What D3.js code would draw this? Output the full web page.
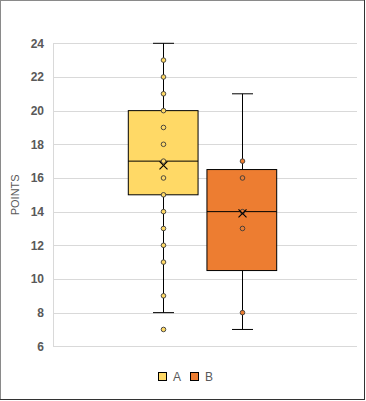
<!DOCTYPE html>
<html><head><meta charset="utf-8">
<script src="https://cdn.jsdelivr.net/npm/d3@7"></script>
<style>body{margin:0;background:#fff}svg{display:block}</style>
</head><body>
<svg id="c" width="366" height="401"></svg>
<script>
const seriesNames = ["A", "B"];
const seriesColors = ["#FFD966", "#ED7D31"];
const pointColors = ["#FFD966", "#ED7D31"];
const whiskerMin = [8, 7];
const quartile1 = [15, 10.5];
const medians = [17, 14];
const quartile3 = [20, 16.5];
const whiskerMax = [24, 21];
const means = [16.75, 13.9];
const pointsA = [23, 22, 21, 20, 19, 18, 17, 16, 15, 14, 13, 12, 11, 9, 7];
const pointsB = [17, 16, 14, 13, 8];
const points = [pointsA, pointsB];
const yTicks = [6, 8, 10, 12, 14, 16, 18, 20, 22, 24];
const yTitle = "POINTS";

(function () {
const svg = d3.select("#c");
const pLeft = 53, pRight = 357, pTop = 43.3, pBottom = 346.3;
const y = d3.scaleLinear().domain([6, 24]).range([pBottom, pTop]);
const x = d3.scaleBand().domain(seriesNames).range([128.3, 276.7]).paddingInner(0.113);

// border
svg.append("rect").attr("x", 0.5).attr("y", 0.5).attr("width", 364).attr("height", 399)
  .attr("fill", "#fff").attr("stroke", "#8a8a8a");
svg.append("line").attr("x1", 364.5).attr("x2", 364.5).attr("y1", 0).attr("y2", 400).attr("stroke", "#333");
svg.append("line").attr("x1", 0).attr("x2", 365).attr("y1", 399.5).attr("y2", 399.5).attr("stroke", "#333");

// grid
svg.append("g").selectAll("line").data(yTicks).join("line")
  .attr("x1", pLeft).attr("x2", pRight)
  .attr("y1", d => Math.round(y(d)) + 0.5).attr("y2", d => Math.round(y(d)) + 0.5)
  .attr("stroke", "#d9d9d9");
svg.append("line").attr("x1", pLeft + 0.5).attr("x2", pLeft + 0.5)
  .attr("y1", y(24)).attr("y2", y(6)).attr("stroke", "#d9d9d9");

// y axis labels
const yAxis = d3.axisLeft(y).tickValues(yTicks).tickSize(0).tickPadding(0);
const ga = svg.append("g").attr("transform", `translate(${pLeft - 9},0)`).call(yAxis);
ga.select(".domain").remove();
ga.selectAll("text").attr("font-family", "Liberation Sans, Arial, sans-serif")
  .attr("font-size", 12).attr("font-weight", "bold").attr("fill", "#595959");

svg.append("text").attr("transform", `translate(19,${(pTop + pBottom) / 2}) rotate(-90)`)
  .attr("text-anchor", "middle").attr("font-family", "Liberation Sans, Arial, sans-serif")
  .attr("font-size", 11).attr("fill", "#595959").text(yTitle);

// boxes
seriesNames.forEach((s, i) => {
  const x0 = x(s), w = x.bandwidth(), cx = Math.round(x0 + w / 2) + 0.5;
  const g = svg.append("g");
  const capW = 21;
  g.append("line").attr("x1", cx).attr("x2", cx).attr("y1", y(whiskerMax[i])).attr("y2", y(quartile3[i])).attr("stroke", "#000");
  g.append("line").attr("x1", cx).attr("x2", cx).attr("y1", y(quartile1[i])).attr("y2", y(whiskerMin[i])).attr("stroke", "#000");
  g.append("line").attr("x1", cx - capW / 2).attr("x2", cx + capW / 2).attr("y1", y(whiskerMax[i])).attr("y2", y(whiskerMax[i])).attr("stroke", "#000");
  g.append("line").attr("x1", cx - capW / 2).attr("x2", cx + capW / 2).attr("y1", y(whiskerMin[i])).attr("y2", y(whiskerMin[i])).attr("stroke", "#000");
  g.append("rect").attr("x", x0).attr("width", w)
    .attr("y", y(quartile3[i])).attr("height", y(quartile1[i]) - y(quartile3[i]))
    .attr("fill", seriesColors[i]).attr("stroke", "#000").attr("stroke-width", 1);
  g.append("line").attr("x1", x0).attr("x2", x0 + w).attr("y1", y(medians[i])).attr("y2", y(medians[i])).attr("stroke", "#000");
  g.selectAll("circle").data(points[i]).join("circle")
    .attr("cx", cx).attr("cy", d => y(d)).attr("r", 2.3)
    .attr("fill", pointColors[i]).attr("stroke", "#3a3a3a").attr("stroke-width", 0.9);
  const my = y(means[i]), m = 4;
  g.append("path").attr("d", `M${cx - m},${my - m}L${cx + m},${my + m}M${cx - m},${my + m}L${cx + m},${my - m}`)
    .attr("stroke", "#000").attr("stroke-width", 1.1).attr("fill", "none");
});

// legend
const legX = [158.5, 190.5];
seriesNames.forEach((s, i) => {
  svg.append("rect").attr("x", legX[i]).attr("y", 372.5).attr("width", 8).attr("height", 8)
    .attr("fill", seriesColors[i]).attr("stroke", "#000");
  svg.append("text").attr("x", legX[i] + 14.5).attr("y", 381).attr("font-family", "Liberation Sans, Arial, sans-serif")
    .attr("font-size", 12).attr("fill", "#595959").text(s);
});
})();
</script>
</body></html>
